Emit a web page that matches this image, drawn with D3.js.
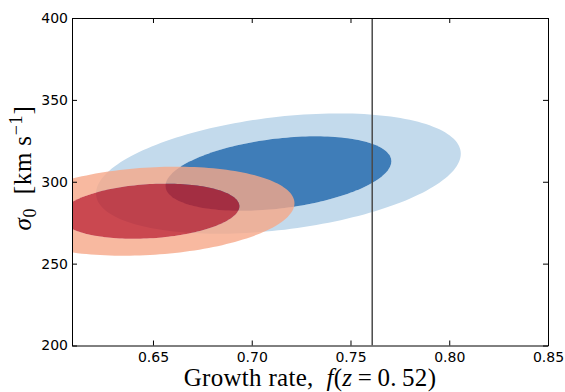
<!DOCTYPE html>
<html>
<head>
  <meta charset="utf-8">
  <script src="https://cdn.jsdelivr.net/npm/d3@7"></script>
  <style>
    body { margin: 0; background: #fff; }
    .tick text { font-family: "DejaVu Sans", sans-serif; font-size: 14px; fill: #000; }
    .axis path, .axis line { stroke: #000; }
    .label { font-family: "Liberation Serif", "DejaVu Serif", serif; fill: #000; }
  </style>
</head>
<body>
<svg id="chart" width="565" height="392"></svg>
<script>
  // fitted 2D gaussian per sample: centre, widths, correlation
  var samples   = ["blue", "red"];
  var centreF   = [0.7135, 0.6484];
  var centreS   = [305, 282];
  var sigmaF    = [0.0377, 0.0299];
  var sigmaS    = [15.0, 11.1];
  var rho       = [0.33, 0.18];
  // contour levels (delta chi^2): outer band, inner region
  var levels    = [6.0, 2.3];
  var fills     = { blue: ["#c3daec", "#3f7db8"], red: ["#f6a888", "#bd1a24"] };
  var opacity   = { blue: [1, 1], red: [0.8, 0.8] };

  var fiducialF = 0.761;
  var xTicks = [0.65, 0.70, 0.75, 0.80, 0.85];
  var yTicks = [200, 250, 300, 350, 400];

  var margin = { top: 18, right: 17, bottom: 46.5, left: 72 };
  var width = 565 - margin.left - margin.right;
  var height = 392 - margin.top - margin.bottom;

  var svg = d3.select("#chart");
  var g = svg.append("g").attr("transform", "translate(" + margin.left + "," + margin.top + ")");

  var x = d3.scaleLinear().domain([0.609, 0.85]).range([0, width]);
  var y = d3.scaleLinear().domain([200, 400]).range([height, 0]);

  svg.append("defs").append("clipPath").attr("id", "clip")
    .append("rect").attr("width", width).attr("height", height);

  var plot = g.append("g").attr("clip-path", "url(#clip)");

  function ellipse(i, dchi2)
  {
    var k = Math.sqrt(dchi2);
    var pts = d3.range(0, 2 * Math.PI, Math.PI / 90).map(function(t) {
      return [
        centreF[i] + k * sigmaF[i] * Math.cos(t),
        centreS[i] + k * sigmaS[i] * (rho[i] * Math.cos(t) + Math.sqrt(1 - rho[i] * rho[i]) * Math.sin(t))
      ];
    });
    return d3.line()
      .x(function(d) { return x(d[0]); })
      .y(function(d) { return y(d[1]); })
      .curve(d3.curveLinearClosed)(pts);
  }

  // contourf style: outer level is a band (ring), inner level is filled
  samples.forEach(function(name, i) {
    plot.append("path")
      .attr("d", ellipse(i, levels[0]) + ellipse(i, levels[1]))
      .attr("fill-rule", "evenodd")
      .attr("fill", fills[name][0])
      .attr("fill-opacity", opacity[name][0]);
    plot.append("path")
      .attr("d", ellipse(i, levels[1]))
      .attr("fill", fills[name][1])
      .attr("fill-opacity", opacity[name][1]);
  });

  plot.append("line")
    .attr("x1", x(fiducialF)).attr("x2", x(fiducialF))
    .attr("y1", 0).attr("y2", height)
    .attr("stroke", "#4a4a4a").attr("stroke-width", 1.5);

  g.append("g").attr("class", "axis")
    .attr("transform", "translate(0," + height + ")")
    .call(d3.axisBottom(x).tickValues(xTicks).tickFormat(d3.format(".2f"))
      .tickSizeInner(-5).tickSizeOuter(0).tickPadding(7));
  g.append("g").attr("class", "axis")
    .call(d3.axisTop(x).tickValues(xTicks).tickFormat("")
      .tickSizeInner(-5).tickSizeOuter(0));
  g.append("g").attr("class", "axis")
    .call(d3.axisLeft(y).tickValues(yTicks).tickFormat(d3.format("d"))
      .tickSizeInner(-5).tickSizeOuter(0).tickPadding(4));
  g.append("g").attr("class", "axis")
    .attr("transform", "translate(" + width + ",0)")
    .call(d3.axisRight(y).tickValues(yTicks).tickFormat("")
      .tickSizeInner(-5).tickSizeOuter(0));

  g.selectAll(".axis text").attr("font-family", null).attr("font-size", null);

  // x label
  var xl = svg.append("text").attr("class", "label")
    .attr("x", 310).attr("y", 386)
    .attr("text-anchor", "middle").style("font-size", "25px")
    .attr("letter-spacing", 0.3);
  xl.append("tspan").text("Growth rate,\u2002");
  xl.append("tspan").attr("font-style", "italic").text("f");
  xl.append("tspan").text("(");
  xl.append("tspan").attr("font-style", "italic").text("z");
  xl.append("tspan").text("\u2009=\u20090.\u200952)");

  // y label
  var yl = svg.append("text").attr("class", "label")
    .attr("transform", "translate(31,168) rotate(-90)")
    .attr("text-anchor", "middle").style("font-size", "25px")
    .attr("letter-spacing", 0.8);
  yl.append("tspan").attr("font-style", "italic").text("\u03c3");
  yl.append("tspan").attr("dy", 5).style("font-size", "18px").text("0");
  yl.append("tspan").attr("dy", -5).text("\u2002[km\u2009s");
  yl.append("tspan").attr("dy", -9).style("font-size", "18px").text("\u22121");
  yl.append("tspan").attr("dy", 9).text("]");
</script>
</body>
</html>
